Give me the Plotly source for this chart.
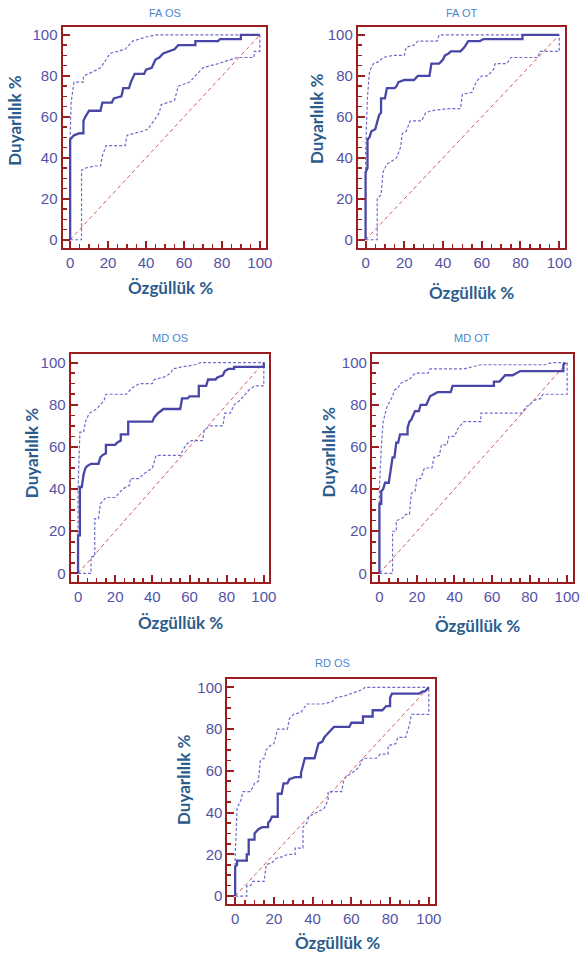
import plotly.graph_objects as go

W, H = 585, 956

# ---------------- data (100 - specificity, sensitivity) ----------------
panel_titles = ["FA OS", "FA OT", "MD OS", "MD OT", "RD OS"]
x_title = "Özgüllük %"
y_title = "Duyarlılık %"
tick_values = [0, 20, 40, 60, 80, 100]

fa_os_x = [0, 0, 2, 5, 7, 7, 8, 10, 16, 17, 22, 23, 27, 28, 31, 32, 34, 39, 40, 43, 45, 47, 49, 52, 55, 57, 66, 66, 78, 79, 90, 90, 100]
fa_os_y = [0, 49, 51, 52, 52, 58, 60, 63, 63, 67, 67, 69, 70, 74, 74, 77, 81, 81, 83, 84, 88, 89, 91, 92, 93, 95, 95, 97, 97, 98, 98, 100, 100]
fa_os_up_x = [0, 0, 0.5, 2, 7, 7, 12, 16, 19, 21, 25, 29, 31, 33, 40, 45, 100]
fa_os_up_y = [0, 50, 67, 77, 77, 80, 82, 84, 88, 91, 92, 93, 95, 97, 99, 100, 100]
fa_os_lo_x = [0, 6, 6, 8, 13, 16, 17, 19, 29, 30, 38, 41, 44, 47, 48, 55, 57, 63, 66, 70, 78, 85, 88, 97, 97, 100, 100]
fa_os_lo_y = [0, 0, 34, 35, 36, 36, 41, 46, 46, 51, 53, 54, 58, 62, 66, 68, 75, 77, 80, 84, 86, 88, 89, 89, 92, 92, 100]

fa_ot_x = [0, 0, 1, 1, 2, 3, 5, 6, 7, 8, 8, 10, 11, 15, 16, 17, 20, 25, 27, 33, 34, 38, 40, 41, 43, 44, 49, 51, 53, 59, 61, 81, 81, 100]
fa_ot_y = [0, 33, 35, 49, 50, 53, 54, 57, 61, 62, 69, 69, 74, 74, 75, 77, 78, 78, 80, 80, 86, 86, 88, 90, 91, 92, 92, 94, 97, 97, 98, 98, 100, 100]
fa_ot_up_x = [0, 0, 0.5, 1, 2, 4, 7, 9, 14, 20, 21, 25, 27, 37, 38, 100]
fa_ot_up_y = [0, 40, 57, 70, 82, 86, 87, 89, 90, 90, 94, 95, 97, 97, 100, 100]
fa_ot_lo_x = [0, 6, 6, 8, 9, 11, 13, 16, 18, 19, 21, 23, 29, 31, 34, 42, 49, 50, 55, 57, 60, 63, 66, 67, 73, 75, 89, 90, 100, 100]
fa_ot_lo_y = [0, 0, 20, 22, 33, 37, 38, 40, 45, 52, 53, 58, 58, 62, 63, 64, 64, 71, 72, 77, 80, 80, 83, 86, 86, 89, 89, 92, 92, 100]

md_os_x = [0, 0, 1, 1, 2, 3, 4, 5, 7, 11, 12, 13, 15, 15, 20, 21, 23, 23, 27, 27, 40, 41, 43, 46, 55, 56, 59, 60, 65, 65, 69, 70, 74, 75, 78, 79, 81, 84, 84, 100, 100]
md_os_y = [0, 18, 18, 41, 41, 47, 50, 51, 52, 52, 55, 56, 57, 61, 61, 62, 63, 66, 66, 72, 72, 74, 76, 78, 78, 83, 83, 84, 84, 89, 89, 92, 92, 93, 94, 96, 97, 97, 98, 98, 100]
md_os_up_x = [0, 0, 1, 3, 4, 6, 10, 14, 15, 26, 29, 33, 40, 41, 46, 50, 51, 56, 63, 66, 100]
md_os_up_y = [0, 40, 67, 67, 72, 76, 78, 82, 85, 85, 88, 90, 90, 92, 93, 95, 97, 98, 99, 100, 100]
md_os_lo_x = [0, 7, 7, 9, 9, 11, 12, 15, 20, 22, 24, 28, 28, 33, 35, 40, 41, 42, 55, 58, 61, 67, 68, 71, 78, 79, 82, 84, 87, 90, 92, 95, 100, 100]
md_os_lo_y = [0, 0, 8, 8, 26, 26, 33, 36, 36, 38, 40, 42, 45, 45, 47, 50, 53, 56, 56, 61, 63, 63, 68, 70, 70, 76, 76, 80, 82, 85, 87, 89, 89, 100]

md_ot_x = [0, 0, 1, 1, 2, 3, 5, 6, 7, 8, 9, 10, 11, 15, 15, 16, 17, 18, 19, 21, 22, 25, 26, 27, 29, 31, 38, 39, 61, 61, 64, 65, 67, 71, 73, 75, 98, 98, 99]
md_ot_y = [0, 33, 33, 39, 40, 43, 43, 49, 55, 55, 62, 62, 66, 66, 69, 72, 73, 75, 77, 77, 80, 80, 82, 84, 85, 86, 86, 89, 89, 91, 91, 92, 94, 94, 95, 96, 96, 99, 100]
md_ot_up_x = [0, 0, 1, 2, 4, 7, 8, 10, 11, 13, 16, 18, 19, 26, 27, 45, 50, 54, 88, 92, 99]
md_ot_up_y = [0, 40, 60, 72, 79, 84, 87, 88, 90, 91, 92, 94, 95, 95, 97, 97, 98, 99, 99, 100, 100]
md_ot_lo_x = [0, 7, 7, 9, 9, 12, 14, 16, 17, 19, 20, 22, 24, 28, 29, 32, 33, 36, 37, 40, 42, 45, 54, 54, 76, 78, 80, 82, 86, 87, 100, 100]
md_ot_lo_y = [0, 0, 20, 20, 25, 26, 28, 28, 38, 39, 45, 45, 50, 50, 55, 56, 61, 61, 65, 65, 69, 72, 72, 76, 76, 79, 80, 82, 83, 85, 85, 100]

rd_os_x = [0, 0, 1, 1, 6, 6, 7, 7, 10, 10, 12, 14, 17, 17, 18, 19, 22, 22, 24, 25, 27, 28, 31, 34, 34, 35, 36, 41, 42, 43, 45, 46, 47, 49, 51, 59, 60, 66, 66, 71, 71, 76, 78, 80, 80, 81, 95, 97, 98, 100]
rd_os_y = [0, 14, 15, 17, 17, 20, 20, 27, 27, 30, 32, 33, 33, 35, 36, 38, 38, 49, 49, 54, 54, 56, 57, 57, 59, 63, 66, 66, 70, 73, 74, 76, 77, 79, 81, 81, 83, 83, 86, 86, 89, 89, 91, 91, 95, 97, 97, 98, 98, 100]
rd_os_up_x = [0, 0, 0.5, 1, 3, 4, 8, 10, 12, 13, 15, 16, 18, 20, 22, 27, 28, 30, 34, 37, 45, 50, 52, 57, 60, 66, 67, 100]
rd_os_up_y = [0, 20, 30, 42, 46, 50, 50, 54, 55, 65, 66, 70, 72, 73, 80, 80, 85, 87, 88, 92, 92, 93, 95, 96, 97, 99, 100, 100]
rd_os_lo_x = [0, 6, 6, 8, 9, 15, 16, 19, 21, 25, 27, 31, 31, 35, 35, 37, 38, 42, 46, 48, 48, 55, 56, 57, 62, 64, 66, 73, 75, 79, 79, 83, 84, 88, 90, 91, 100, 100]
rd_os_lo_y = [0, 0, 5, 5, 7, 7, 15, 16, 18, 19, 20, 20, 23, 23, 33, 35, 38, 40, 42, 46, 50, 50, 55, 57, 60, 62, 66, 66, 68, 68, 72, 73, 76, 76, 82, 87, 87, 100]

diag = [0, 100]

panels = [
    (fa_os_x, fa_os_y, fa_os_up_x, fa_os_up_y, fa_os_lo_x, fa_os_lo_y),
    (fa_ot_x, fa_ot_y, fa_ot_up_x, fa_ot_up_y, fa_ot_lo_x, fa_ot_lo_y),
    (md_os_x, md_os_y, md_os_up_x, md_os_up_y, md_os_lo_x, md_os_lo_y),
    (md_ot_x, md_ot_y, md_ot_up_x, md_ot_up_y, md_ot_lo_x, md_ot_lo_y),
    (rd_os_x, rd_os_y, rd_os_up_x, rd_os_up_y, rd_os_lo_x, rd_os_lo_y),
]

# ---------------- layout geometry (pixels) ----------------
# (x of value 0, x of value 100, y of value 0, y of value 100)
geom = [
    (71, 263, 239, 34),
    (370, 566, 239, 34),
    (79, 267, 573, 362),
    (384, 574, 573, 362),
    (238, 434, 896, 687),
]
# title positions: panel title (x,y), y-title (x,y), x-title (x,y)
label_pos = [
    ((167, 12), (15, 120), (173, 287)),
    ((467, 12), (321, 118), (477, 292)),
    ((172, 337), (32, 453), (183, 622)),
    ((478, 337), (333, 452), (483, 625)),
    ((337, 663), (185, 780), (342, 942)),
]

XR = [-4, 103]
YR = [-4, 104]

FRAME = "#9B1D1D"
TICKC = "#5552A6"
TITLEC = "#2B5C8C"
PTITLEC = "#4A86D0"
ROC = "#4846A6"
CI = "#6E6CCB"
DIAG = "#D05A5A"

fig = go.Figure()
layout_axes = {}
annotations = []

for i, (data, g, lp, name) in enumerate(zip(panels, geom, label_pos, panel_titles)):
    n = "" if i == 0 else str(i + 1)
    xa, ya = "x" + n, "y" + n
    x0p, x100p, y0p, y100p = g
    ppx = (x100p - x0p) / 100.0
    ppy = (y0p - y100p) / 100.0
    left = x0p + XR[0] * ppx
    right = x0p + XR[1] * ppx
    bottom = y0p - YR[0] * ppy
    top = y0p - YR[1] * ppy
    xd = [left / W, right / W]
    yd = [1 - bottom / H, 1 - top / H]

    rx, ry, ux, uy, lx, ly = data
    fig.add_trace(go.Scatter(x=diag, y=diag, mode="lines", xaxis=xa, yaxis=ya,
                             line=dict(color=DIAG, width=1, dash="4px,3px"), showlegend=False))
    fig.add_trace(go.Scatter(x=ux, y=uy, mode="lines", xaxis=xa, yaxis=ya,
                             line=dict(color=CI, width=1.2, dash="3px,2px"), showlegend=False))
    fig.add_trace(go.Scatter(x=lx, y=ly, mode="lines", xaxis=xa, yaxis=ya,
                             line=dict(color=CI, width=1.2, dash="3px,2px"), showlegend=False))
    fig.add_trace(go.Scatter(x=rx, y=ry, mode="lines", xaxis=xa, yaxis=ya,
                             line=dict(color=ROC, width=2.3), showlegend=False))

    common = dict(
        showline=True, mirror=True, linecolor=FRAME, linewidth=2,
        ticks="inside", ticklen=7, tickwidth=2, tickcolor=FRAME,
        tickmode="array", tickvals=tick_values,
        minor=dict(tickmode="linear", tick0=0, dtick=5, ticks="inside", ticklen=4,
                   tickwidth=1.5, tickcolor=FRAME, showgrid=False),
        showgrid=False, zeroline=False, fixedrange=True,
        tickfont=dict(family="Liberation Sans, Arial", size=15, color=TICKC),
    )
    layout_axes["xaxis" + n] = dict(common, domain=xd, range=XR, anchor=ya)
    layout_axes["yaxis" + n] = dict(common, domain=yd, range=YR, anchor=xa)

    (tx, ty), (yx, yy), (xx, xy) = lp
    annotations.append(dict(text=name, x=tx / W, y=1 - ty / H, xref="paper", yref="paper",
                            showarrow=False, xanchor="center", yanchor="middle",
                            font=dict(family="Liberation Sans, Arial", size=11, color=PTITLEC)))
    annotations.append(dict(text="<b>" + y_title + "</b>", x=yx / W, y=1 - yy / H,
                            xref="paper", yref="paper", showarrow=False, textangle=-90,
                            xanchor="center", yanchor="middle",
                            font=dict(family="Lato, Open Sans", size=17, color=TITLEC)))
    annotations.append(dict(text="<b>" + x_title + "</b>", x=xx / W, y=1 - xy / H,
                            xref="paper", yref="paper", showarrow=False,
                            xanchor="center", yanchor="middle",
                            font=dict(family="Lato, Open Sans", size=17, color=TITLEC)))

fig.update_layout(
    width=W, height=H,
    margin=dict(l=0, r=0, t=0, b=0),
    paper_bgcolor="white", plot_bgcolor="white",
    annotations=annotations,
    **layout_axes,
)

fig.write_html("out.html",
               config={"displayModeBar": False, "staticPlot": True},
               post_script="document.body.style.margin='0';document.body.style.overflow='hidden';")
